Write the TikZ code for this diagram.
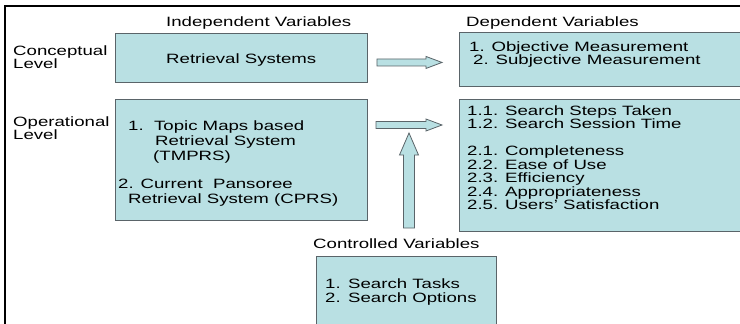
\documentclass[tikz,border=0pt]{standalone}
\usepackage{fontspec}
\setmainfont{Liberation Sans}[FakeStretch=1.38]
\usetikzlibrary{calc}
\definecolor{boxfill}{RGB}{185,224,227}
\definecolor{boxline}{RGB}{90,100,105}
\begin{document}
\begin{tikzpicture}[x=1pt,y=-1pt,
  box/.style={draw=boxline, fill=boxfill, line width=0.9pt, anchor=north west, inner sep=0pt},
  txt/.style={anchor=base west, inner sep=0pt, font=\fontsize{13.5}{13.5}\selectfont},
  barrow/.style={draw=boxline, fill=boxfill, line width=0.8pt, line join=miter}]
\useasboundingbox (0,0) rectangle (740,324);
\fill[white] (0,0) rectangle (740,324);

% frame (left and top edges)
\draw[line width=2.2pt] (5,330) -- (5,6) -- (745,6);

% boxes
\node[box, minimum width=252pt, minimum height=49pt] (ivc) at (115,33) {};
\node[box, minimum width=300pt, minimum height=54pt] (dvc) at (459,32) {};
\node[box, minimum width=252pt, minimum height=121pt] (ivo) at (115,99) {};
\node[box, minimum width=300pt, minimum height=132pt] (dvo) at (459,99) {};
\node[box, minimum width=180pt, minimum height=90pt] (cv) at (316,256) {};

% headings
\node[txt] (hiv) at (166,27) {Independent Variables};
\node[txt] (hdv) at (466,27) {Dependent Variables};
\node[txt] (hcv) at (313,248) {Controlled Variables};

% level labels
\node[txt] (lc1) at (13,55.5) {Conceptual};
\node[txt] (lc2) at (13,68.5) {Level};
\node[txt] (lo1) at (13,126) {Operational};
\node[txt] (lo2) at (13,139) {Level};

% conceptual level contents
\node[txt] (rs) at (166,63.5) {Retrieval Systems};
\node[txt] (om) at (469,51) {1. Objective Measurement};
\node[txt] (sm) at (473,64.5) {2. Subjective Measurement};

% operational level: independent variables
\node[txt] (t1) at (128,130) {1.\ \ Topic Maps based};
\node[txt] (t2) at (155,145) {Retrieval System};
\node[txt] (t3) at (153,160) {(TMPRS)};
\node[txt] (t4) at (118,188) {2. Current\ \ Pansoree};
\node[txt] (t5) at (128,203) {Retrieval System (CPRS)};

% operational level: dependent variables
\node[txt] (d1) at (467,115) {1.1. Search Steps Taken};
\node[txt] (d2) at (467,128.5) {1.2. Search Session Time};
\node[txt] (d3) at (467,155.5) {2.1. Completeness};
\node[txt] (d4) at (467,169) {2.2. Ease of Use};
\node[txt] (d5) at (467,182.5) {2.3. Efficiency};
\node[txt] (d6) at (467,196) {2.4. Appropriateness};
\node[txt] (d7) at (467,209.5) {2.5. Users’ Satisfaction};

% controlled variables
\node[txt] (c1) at (325,288.5) {1.};
\node[txt] (c2) at (348,288.5) {Search Tasks};
\node[txt] (c3) at (325,302) {2.};
\node[txt] (c4) at (348,302) {Search Options};

% block arrows
\coordinate (a1s) at ($(ivc.east)+(9,4.5)$);
\coordinate (a1e) at ($(dvc.west)+(-17,3)$);
\coordinate (a2s) at (376,125);
\coordinate (a2e) at ($(dvo.west |- a2s)+(-17,0)$);
\coordinate (a3s) at (409,228);
\coordinate (a3e) at (409,133);

\draw[barrow] ($(a1s)+(0,-3.5)$) -- ($(a1e)+(-16,-3.5)$) -- ($(a1e)+(-16,-6)$) -- (a1e)
  -- ($(a1e)+(-16,6)$) -- ($(a1e)+(-16,3.5)$) -- ($(a1s)+(0,3.5)$) -- cycle;
\draw[barrow] ($(a2s)+(0,-3.5)$) -- ($(a2e)+(-16,-3.5)$) -- ($(a2e)+(-16,-6)$) -- (a2e)
  -- ($(a2e)+(-16,6)$) -- ($(a2e)+(-16,3.5)$) -- ($(a2s)+(0,3.5)$) -- cycle;
\draw[barrow] ($(a3s)+(-5.5,0)$) -- ($(a3e)+(-5.5,22)$) -- ($(a3e)+(-9.5,22)$) -- (a3e)
  -- ($(a3e)+(9.5,22)$) -- ($(a3e)+(5.5,22)$) -- ($(a3s)+(5.5,0)$) -- cycle;
\end{tikzpicture}
\end{document}
